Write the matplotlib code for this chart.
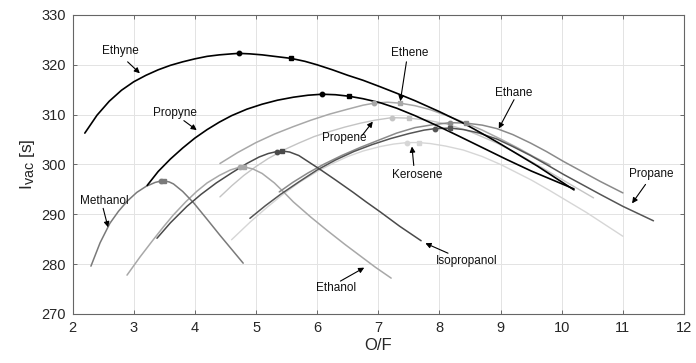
import matplotlib
matplotlib.use("Agg")
import matplotlib.pyplot as plt
import matplotlib._mathtext as _mt

plt.rcParams['font.family'] = ['Liberation Sans', 'DejaVu Sans']
plt.rcParams['mathtext.default'] = 'regular'
_mt.SHRINK_FACTOR = 0.82  # larger subscripts for the axis label

# ---- vacuum specific impulse vs. mixture ratio, per fuel ----
ethyne_of = [2.20, 2.40, 2.60, 2.80, 3.00, 3.20, 3.40, 3.60, 3.80, 4.00, 4.20, 4.40, 4.60, 4.72, 4.90, 5.10, 5.30, 5.57,
             5.80, 6.00, 6.25, 6.50, 6.75, 7.03, 7.30, 7.60, 8.00, 8.39, 8.70, 9.00, 9.30, 9.60, 9.90, 10.20]
ethyne_isp = [306.3, 309.9, 312.7, 314.9, 316.6, 317.9, 319.0, 319.9, 320.6, 321.2, 321.7, 322.0, 322.2, 322.3, 322.2, 322.0, 321.7, 321.3,
              320.7, 320.0, 319.0, 317.9, 316.9, 315.6, 314.3, 312.8, 310.6, 308.3, 306.2, 304.1, 301.9, 299.7, 297.3, 294.9]

propyne_of = [3.22, 3.40, 3.60, 3.80, 4.00, 4.20, 4.40, 4.60, 4.85, 5.10, 5.35, 5.61, 5.85, 6.08, 6.30, 6.52, 6.75, 7.03,
              7.30, 7.60, 7.96, 8.30, 8.70, 9.10, 9.50, 9.85, 10.20]
propyne_isp = [295.8, 298.6, 301.1, 303.3, 305.3, 307.0, 308.5, 309.8, 311.1, 312.1, 312.9, 313.5, 313.9, 314.1, 314.0, 313.7, 313.2, 312.4,
               311.3, 309.8, 307.8, 305.8, 303.4, 301.0, 298.7, 296.9, 295.1]

ethene_of = [4.41, 4.70, 5.00, 5.30, 5.61, 5.90, 6.20, 6.50, 6.75, 6.93, 7.15, 7.36, 7.60, 7.85, 8.10, 8.39, 8.70, 9.00, 9.30, 9.55, 9.81]
ethene_isp = [300.2, 302.4, 304.4, 306.1, 307.6, 308.9, 310.1, 311.1, 311.9, 312.3, 312.5, 312.3, 311.8, 311.0, 309.9, 308.5, 306.9, 305.1, 303.2, 301.5, 299.9]

propene_of = [4.41, 4.60, 4.80, 5.00, 5.20, 5.45, 5.70, 5.95, 6.20, 6.45, 6.71, 6.95, 7.22, 7.50, 7.80, 8.12, 8.50, 8.94, 9.30, 9.70, 10.10, 10.52]
propene_isp = [293.5, 295.7, 297.8, 299.6, 301.2, 302.9, 304.3, 305.6, 306.6, 307.5, 308.3, 308.9, 309.4, 309.3, 308.9, 308.1, 306.6, 304.3, 302.0, 299.2, 296.3, 293.3]

ethane_of = [5.38, 5.60, 5.85, 6.10, 6.40, 6.70, 7.03, 7.30, 7.60, 7.90, 8.18, 8.44, 8.70, 8.94, 9.20, 9.49, 9.75, 10.03, 10.33, 10.63, 11.00]
ethane_isp = [294.5, 296.4, 298.3, 300.0, 301.8, 303.4, 305.0, 306.3, 307.4, 308.0, 308.4, 308.3, 307.9, 307.2, 306.0, 304.3, 302.6, 300.6, 298.6, 296.6, 294.3]

propane_of = [4.90, 5.15, 5.40, 5.70, 6.00, 6.30, 6.60, 6.90, 7.20, 7.50, 7.75, 7.93, 8.18, 8.40, 8.65, 8.94, 9.20, 9.49, 9.75,
              10.03, 10.33, 10.63, 11.00, 11.50]
propane_isp = [289.2, 291.7, 294.0, 296.5, 298.9, 300.9, 302.6, 304.0, 305.2, 306.2, 306.9, 307.2, 307.3, 307.0, 306.3, 305.1, 303.6, 301.8, 300.0,
               298.0, 296.0, 294.0, 291.6, 288.7]

kerosene_of = [4.60, 4.90, 5.18, 5.45, 5.72, 6.00, 6.27, 6.50, 6.75, 7.03, 7.25, 7.47, 7.66, 7.85, 8.10, 8.39, 8.70, 9.00, 9.21,
               9.50, 9.80, 10.10, 10.40, 10.70, 11.00]
kerosene_isp = [284.9, 288.4, 291.4, 294.1, 296.5, 298.6, 300.3, 301.6, 302.7, 303.6, 304.1, 304.4, 304.4, 304.2, 303.7, 302.9, 301.6, 300.0, 298.7,
                296.9, 294.8, 292.6, 290.4, 288.0, 285.6]

isopropanol_of = [3.38, 3.60, 3.87, 4.10, 4.35, 4.60, 4.85, 5.05, 5.20, 5.34, 5.43, 5.55, 5.70, 5.85, 6.05, 6.30, 6.59, 6.80, 7.03, 7.35, 7.70]
isopropanol_isp = [285.2, 288.3, 291.6, 294.0, 296.3, 298.3, 300.2, 301.5, 302.2, 302.6, 302.7, 302.5, 301.8, 300.6, 299.0, 296.9, 294.4, 292.5, 290.5, 287.6, 284.7]

ethanol_of = [2.89, 3.10, 3.30, 3.48, 3.65, 3.85, 4.03, 4.20, 4.40, 4.58, 4.74, 4.81, 4.95, 5.10, 5.30, 5.45, 5.61, 5.90, 6.16,
              6.45, 6.70, 6.95, 7.21]
ethanol_isp = [277.8, 281.4, 284.6, 287.4, 289.9, 292.5, 294.6, 296.3, 297.8, 298.9, 299.5, 299.5, 299.1, 298.2, 296.3, 294.5, 292.5, 289.4, 286.8,
               284.0, 281.7, 279.4, 277.2]

methanol_of = [2.30, 2.45, 2.61, 2.75, 2.89, 3.05, 3.20, 3.35, 3.45, 3.50, 3.58, 3.65, 3.80, 3.98, 4.20, 4.41, 4.60, 4.79]
methanol_isp = [279.6, 284.3, 288.2, 290.6, 292.6, 294.4, 295.6, 296.4, 296.7, 296.7, 296.5, 296.1, 294.6, 292.3, 289.0, 285.8, 283.0, 280.2]

# operating points: peak Isp, and the second (design) mixture ratio
peak_points = {
    'Ethyne': (4.72, 322.3), 'Propyne': (6.08, 314.1), 'Ethene': (6.93, 312.3),
    'Propene': (7.22, 309.4), 'Ethane': (8.18, 308.4), 'Propane': (7.93, 307.2),
    'Kerosene': (7.47, 304.4), 'Isopropanol': (5.34, 302.6), 'Ethanol': (4.74, 299.5),
    'Methanol': (3.45, 296.7),
}
design_points = {
    'Ethyne': (5.57, 321.3), 'Propyne': (6.52, 313.7), 'Ethene': (7.36, 312.3),
    'Propene': (7.50, 309.3), 'Ethane': (8.44, 308.3), 'Propane': (8.18, 307.3),
    'Kerosene': (7.66, 304.4), 'Isopropanol': (5.43, 302.7), 'Ethanol': (4.81, 299.5),
    'Methanol': (3.50, 296.7),
}

series = [
    ('Kerosene', kerosene_of, kerosene_isp, '#d6d6d6', 1.0),
    ('Propene', propene_of, propene_isp, '#c4c4c4', 1.0),
    ('Ethene', ethene_of, ethene_isp, '#a8a8a8', 1.1),
    ('Ethanol', ethanol_of, ethanol_isp, '#a8a8a8', 1.1),
    ('Ethane', ethane_of, ethane_isp, '#8a8a8a', 1.1),
    ('Methanol', methanol_of, methanol_isp, '#7a7a7a', 1.1),
    ('Propane', propane_of, propane_isp, '#555555', 1.1),
    ('Isopropanol', isopropanol_of, isopropanol_isp, '#4a4a4a', 1.1),
    ('Propyne', propyne_of, propyne_isp, '#000000', 1.2),
    ('Ethyne', ethyne_of, ethyne_isp, '#000000', 1.2),
]

# label text position, arrow tail, arrow tip
labels = [
    ('Ethyne', (2.78, 322.8), (2.90, 320.6), (3.10, 318.3)),
    ('Propyne', (3.68, 310.4), (3.82, 308.8), (4.03, 306.9)),
    ('Ethene', (7.52, 322.3), (7.46, 320.6), (7.36, 312.7)),
    ('Ethane', (9.21, 314.4), (9.22, 313.0), (8.97, 307.2)),
    ('Propene', (6.45, 305.4), (6.74, 305.9), (6.91, 308.6)),
    ('Kerosene', (7.63, 297.9), (7.58, 299.8), (7.55, 303.6)),
    ('Propane', (11.47, 298.0), (11.37, 296.0), (11.15, 292.2)),
    ('Isopropanol', (8.45, 280.7), (8.14, 282.2), (7.77, 284.2)),
    ('Ethanol', (6.31, 275.2), (6.38, 276.6), (6.77, 279.3)),
    ('Methanol', (2.52, 292.7), (2.50, 291.2), (2.58, 287.4)),
]

fig = plt.figure(figsize=(6.96, 3.63), dpi=100)
ax = fig.add_axes([0.1043, 0.135, 0.8785, 0.8237])

for name, of, isp, color, lw in series:
    ax.plot(of, isp, color=color, lw=lw, solid_capstyle='round', solid_joinstyle='round', zorder=2)
    px, py = peak_points[name]
    dx, dy = design_points[name]
    ax.plot([px], [py], marker='o', ms=3.2, color=color, mec=color, ls='none', zorder=3)
    ax.plot([dx], [dy], marker='s', ms=3.0, color=color, mec=color, ls='none', zorder=3)

for text, tpos, tail, tip in labels:
    ax.text(tpos[0], tpos[1], text, ha='center', va='center', fontsize=8.5, color='#111111', zorder=5)
    ax.annotate('', xy=tip, xytext=tail,
                arrowprops=dict(arrowstyle='-|>', color='k', lw=0.8,
                                mutation_scale=8, shrinkA=0, shrinkB=0), zorder=5)

ax.set_xlim(2, 12)
ax.set_ylim(270, 330)
ax.set_xticks(range(2, 13))
ax.set_yticks(range(270, 331, 10))
ax.grid(True, color='#e3e3e3', lw=0.7, zorder=0)
ax.set_axisbelow(True)
ax.tick_params(direction='in', top=True, right=True, length=3, width=0.6,
               colors='#555555', labelcolor='#262626', labelsize=10.5, pad=5)
for sp in ax.spines.values():
    sp.set_color('#666666')
    sp.set_linewidth(0.8)

ax.set_xlabel('O/F', fontsize=12, color='#262626', labelpad=2)
ax.set_ylabel('I$_{vac}$ [s]', fontsize=12.5, color='#262626')
ax.yaxis.set_label_coords(-0.058, 0.5)

fig.savefig('out.png', dpi=100)
